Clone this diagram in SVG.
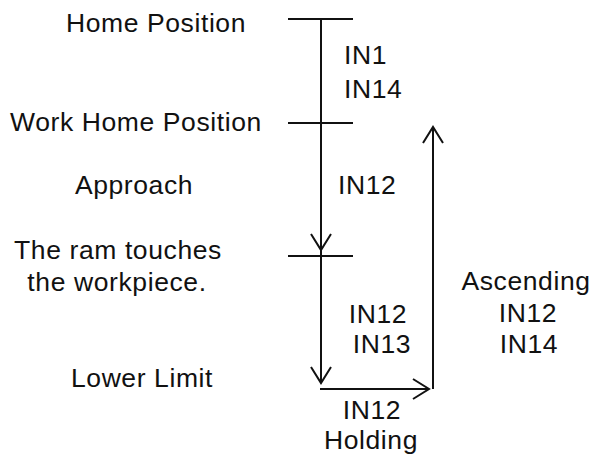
<svg xmlns="http://www.w3.org/2000/svg" width="596" height="457" viewBox="0 0 596 457">
  <style>
    .t { font-family: "Liberation Sans", Arial, sans-serif; font-size: 26.5px; fill: #111; letter-spacing: 0.6px; }
    .m { text-anchor: middle; }
    .ln { stroke: #111; stroke-width: 2; fill: none; }
  </style>
  <defs>
    <marker id="arr" markerUnits="userSpaceOnUse" viewBox="-18 -11 20 22" refX="0" refY="0" markerWidth="20" markerHeight="22" orient="auto" overflow="visible">
      <path d="M -16 -10 L 0 0 L -16 10" fill="none" stroke="#111" stroke-width="2"/>
    </marker>
  </defs>
  <rect width="596" height="457" fill="#fff"/>

  <g id="connectors">
    <line class="ln" x1="321" y1="19" x2="321" y2="250" marker-end="url(#arr)"/>
    <line class="ln" x1="321" y1="250" x2="321" y2="256"/>
    <line class="ln" x1="321" y1="256" x2="321" y2="383" marker-end="url(#arr)"/>
    <line class="ln" x1="320" y1="389" x2="429" y2="389" marker-end="url(#arr)"/>
    <line class="ln" x1="433" y1="389" x2="433" y2="127" marker-end="url(#arr)"/>
  </g>

  <g id="tick-home">
    <line class="ln" x1="288" y1="19" x2="353" y2="19"/>
    <text class="t m" x="156" y="32">Home Position</text>
  </g>
  <g id="tick-work-home">
    <line class="ln" x1="288" y1="123" x2="353" y2="123"/>
    <text class="t m" x="136" y="131">Work Home Position</text>
  </g>
  <g id="tick-touch">
    <line class="ln" x1="288" y1="256" x2="353" y2="256"/>
    <text class="t m" x="118" y="259">The ram touches</text>
    <text class="t m" x="117" y="291">the workpiece.</text>
  </g>
  <g id="label-approach">
    <text class="t m" x="134" y="194">Approach</text>
  </g>
  <g id="label-lower-limit">
    <text class="t m" x="142" y="387">Lower Limit</text>
  </g>
  <g id="label-in1-in14">
    <text class="t" x="344" y="64">IN1</text>
    <text class="t" x="344" y="98">IN14</text>
  </g>
  <g id="label-in12-approach">
    <text class="t" x="338" y="194">IN12</text>
  </g>
  <g id="label-in12-in13">
    <text class="t m" x="378" y="323">IN12</text>
    <text class="t m" x="382" y="353">IN13</text>
  </g>
  <g id="label-holding">
    <text class="t m" x="372" y="419">IN12</text>
    <text class="t m" x="371" y="449">Holding</text>
  </g>
  <g id="label-ascending">
    <text class="t m" x="526" y="290">Ascending</text>
    <text class="t m" x="528" y="322">IN12</text>
    <text class="t m" x="529" y="353">IN14</text>
  </g>
</svg>
